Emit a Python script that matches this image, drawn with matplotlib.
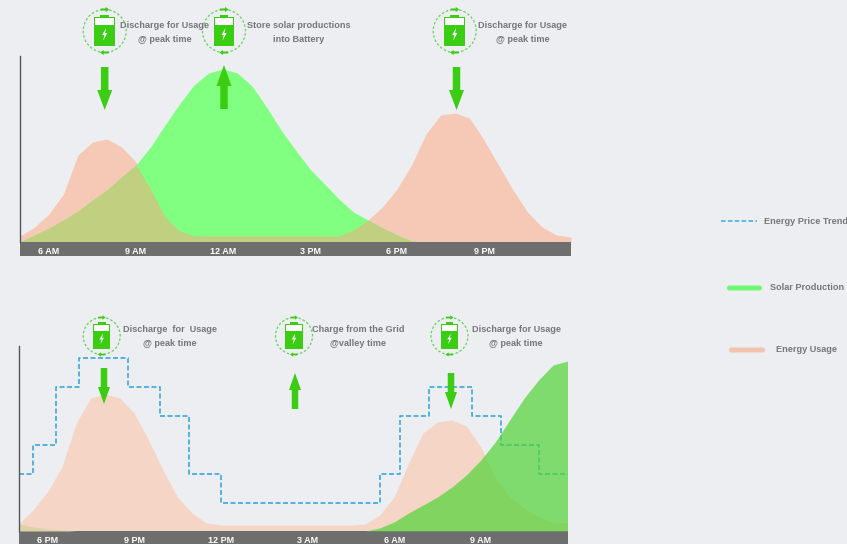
#!/usr/bin/env python3
"""
Solar + battery daily load shifting chart, two panels and a legend on the right.
"""

import matplotlib
matplotlib.use("Agg")
import matplotlib.pyplot as plt
import numpy as np
from matplotlib.patches import Circle, FancyBboxPatch, Polygon, Rectangle

# --- Data ---
# half hour steps, heights are read off the picture
TOP_HOURS = np.arange(5, 24.5, 0.5)
TOP_USAGE = [6, 15, 28, 48, 87, 100, 103, 95, 80, 53, 25, 11, 6, 6, 6, 6, 6, 6, 6, 6, 6, 6, 6,
             12, 22, 35, 53, 77, 108, 127, 129, 124, 102, 77, 52, 30, 15, 7, 5]
TOP_SOLAR = [0, 7, 14, 22, 31, 42, 52, 65, 77, 95, 117, 138, 157, 169, 173, 169, 156, 135, 112,
             92, 73, 58, 43, 30, 22, 14, 7, 1, 0, 0, 0, 0, 0, 0, 0, 0, 0, 0, 0]
TOP_TICKS = [6, 9, 12, 15, 18, 21]
TOP_LABELS = ["6 AM", "9 AM", "12 AM", "3 PM", "6 PM", "9 PM"]

BOTTOM_HOURS = np.arange(17, 36.5, 0.5)
BOTTOM_USAGE = [7, 21, 39, 64, 108, 133, 137, 133, 118, 91, 61, 34, 18, 8, 6, 6, 6, 6, 6, 6, 6, 6, 6, 6, 7,
                16, 34, 68, 98, 109, 111, 105, 84, 54, 34, 23, 14, 9, 8]
BOTTOM_SOLAR_EVENING = [7, 4, 2, 1, 0]
BOTTOM_SOLAR = [0, 0, 0, 0, 0, 0, 0, 0, 0, 0, 0, 0, 0, 0, 0, 0, 0, 0, 0, 0, 0, 0, 0, 0, 0,
                3, 9, 18, 26, 34, 44, 56, 71, 89, 111, 133, 151, 166, 170]
BOTTOM_TICKS = [18, 21, 24, 27, 30, 33]
BOTTOM_LABELS = ["6 PM", "9 PM", "12 PM", "3 AM", "6 AM", "9 AM"]

PRICE_EDGES = [17, 17.5, 18.3, 19.1, 20.8, 21.9, 22.9, 24, 29.5, 30.2, 31.2, 32.7, 33.7, 35, 36]
PRICE_LEVELS = [57, 86, 144, 173, 144, 115, 57, 28, 57, 115, 144, 115, 86, 57, 57]

# --- Styles ---
WIDTH, HEIGHT = 847, 544
BG = "#EDEEF1"
BAND = "#6E6E6E"
GREY_TEXT = "#77777B"
ARROW_GREEN = "#3ACD14"
PRICE_BLUE = "#3AA9DC"
FONT = ["Liberation Sans Narrow", "Liberation Sans", "DejaVu Sans"]


def pixel_axes(fig, left, top, right, bottom):
    """Make an axes from pixel positions, y counted from the top of the picture."""
    return fig.add_axes([left / WIDTH, 1 - bottom / HEIGHT, (right - left) / WIDTH, (bottom - top) / HEIGHT])


def style_chart(ax, xlim, ylim, ticks, labels, band_px):
    ax.set_facecolor("none")
    ax.set_xlim(*xlim)
    ax.set_ylim(*ylim)
    ax.set_yticks([])
    ax.set_xticks(ticks)
    ax.set_xticklabels(labels, color="white", fontsize=6.5, fontweight="bold", family=FONT)
    ax.tick_params(axis="x", length=0, pad=3.5)
    for name in ["top", "right", "bottom"]:
        ax.spines[name].set_visible(False)
    ax.spines["left"].set_color("#55555A")
    ax.spines["left"].set_linewidth(1.0)
    # grey time band under the plot
    height = band_px / ylim[1]
    ax.add_patch(Rectangle((0, -height), 1, height, transform=ax.transAxes, color=BAND, clip_on=False, lw=0, zorder=1))


def draw_top(ax):
    usage = np.array(TOP_USAGE)
    solar = np.array(TOP_SOLAR)
    ax.fill_between(TOP_HOURS, 0, usage, color="#F5C9B5", lw=0)
    ax.fill_between(TOP_HOURS, 0, solar, color="#80FF80", lw=0)
    ax.fill_between(TOP_HOURS, 0, np.minimum(usage, solar), color="#C0D080", lw=0)
    style_chart(ax, (5, 24), (0, 186), TOP_TICKS, TOP_LABELS, 14)


def draw_bottom(ax):
    ax.fill_between(BOTTOM_HOURS, 0, BOTTOM_USAGE, color="#F5D5C6", lw=0, zorder=1)
    ax.fill_between(BOTTOM_HOURS[:5], 0, BOTTOM_SOLAR_EVENING, color="#D9D3A6", lw=0, zorder=1.2)
    ax.step(PRICE_EDGES, PRICE_LEVELS, where="post", color=PRICE_BLUE, lw=1.2, ls=(0, (3, 1.5)), zorder=1.5)
    # see through, the price line shows under it
    ax.fill_between(BOTTOM_HOURS, 0, BOTTOM_SOLAR, color="#51D436", alpha=0.7, lw=0, zorder=2)
    style_chart(ax, (17, 36), (0, 185), BOTTOM_TICKS, BOTTOM_LABELS, 13)


def draw_battery(ax, cx, cy, r):
    """Battery with dashed ring and two small arrows, r is the ring radius."""
    ax.add_patch(Circle((cx, cy), r, fill=False, ec="#62D35C", lw=0.9, ls=(0, (2, 1.6))))
    w = r * 0.95
    h = r * 1.36
    top = cy - h / 2 + 0.5
    ax.add_patch(Rectangle((cx - w / 2, top), w, h, color=ARROW_GREEN, lw=0))
    ax.add_patch(Rectangle((cx - w * 0.22, top - 2), w * 0.44, 2, color=ARROW_GREEN, lw=0))
    ax.add_patch(Rectangle((cx - w / 2 + 1, top + 1.5), w - 2, h * 0.22, color="white", lw=0))
    s = r / 21
    bolt = [(1.5, -6), (-2.5, 1), (-0.3, 1), (-1.5, 6.5), (2.5, -1), (0.3, -1)]
    ax.add_patch(Polygon([(cx + x * s, cy + 3 * s + y * s) for x, y in bolt], color="white", lw=0))
    # small arrows, right on top of the ring and left under it
    for sign, y in [(1, cy - r), (-1, cy + r)]:
        ax.add_patch(Polygon([(cx - sign * 4 * s, y - 1 * s), (cx + sign * 1 * s, y - 1 * s),
                              (cx + sign * 1 * s, y - 2.5 * s), (cx + sign * 4.5 * s, y),
                              (cx + sign * 1 * s, y + 2.5 * s), (cx + sign * 1 * s, y + 1 * s),
                              (cx - sign * 4 * s, y + 1 * s)], color=ARROW_GREEN, lw=0, zorder=3))


def draw_arrow(ax, x, tail, neck, tip, shaft, head):
    """Big block arrow, from tail to tip in pixels."""
    pts = [(x - shaft / 2, tail), (x + shaft / 2, tail), (x + shaft / 2, neck), (x + head / 2, neck),
           (x, tip), (x - head / 2, neck), (x - shaft / 2, neck)]
    ax.add_patch(Polygon(pts, color=ARROW_GREEN, lw=0, zorder=5))


def note(ax, x, y, text, size=6.6, ha="center"):
    ax.text(x, y, text, ha=ha, va="center", color=GREY_TEXT, fontsize=size, fontweight="bold", family=FONT)


def draw_decorations(ax):
    ax.set_xlim(0, WIDTH)
    ax.set_ylim(HEIGHT, 0)
    ax.axis("off")

    for cx in [104.7, 224, 454.7]:
        draw_battery(ax, cx, 31, 21.5)
    for cx in [101.7, 294, 449.5]:
        draw_battery(ax, cx, 336, 18.5)

    draw_arrow(ax, 104.7, 67, 90, 110, 7.5, 15)
    draw_arrow(ax, 224, 109, 86, 65, 7.5, 15)
    draw_arrow(ax, 456.5, 67, 90, 110, 7.5, 15)
    draw_arrow(ax, 104, 368, 387, 404, 6.5, 12)
    draw_arrow(ax, 295, 409, 390, 373, 6.5, 12)
    draw_arrow(ax, 451, 373, 392, 409, 6.5, 12)

    note(ax, 165, 25, "Discharge for Usage")
    note(ax, 165, 39, "@ peak time")
    note(ax, 299, 25, "Store solar productions")
    note(ax, 299, 39, "into Battery")
    note(ax, 523, 25, "Discharge for Usage")
    note(ax, 523, 39, "@ peak time")
    note(ax, 170, 329, "Discharge  for  Usage")
    note(ax, 170, 344, "@ peak time")
    note(ax, 358, 330, "Charge from the Grid")
    note(ax, 358, 344, "@valley time")
    note(ax, 516, 329, "Discharge for Usage")
    note(ax, 516, 344, "@ peak time")

    # legend
    ax.plot([721, 757], [221, 221], color=PRICE_BLUE, lw=1.1, ls=(0, (3, 1.5)))
    note(ax, 764, 221, "Energy Price Trend", ha="left")
    ax.add_patch(FancyBboxPatch((727, 285.5), 35, 5, boxstyle="round,pad=0,rounding_size=2.5", color="#70F870", lw=0))
    note(ax, 770, 287.5, "Solar Production", ha="left")
    ax.add_patch(FancyBboxPatch((729, 347.5), 36, 5, boxstyle="round,pad=0,rounding_size=2.5", color="#F2C3AE", lw=0))
    note(ax, 776, 350, "Energy Usage", ha="left")


def main():
    fig = plt.figure(figsize=(WIDTH / 100, HEIGHT / 100), dpi=100, facecolor=BG)
    draw_top(pixel_axes(fig, 20, 56, 571, 242))
    draw_bottom(pixel_axes(fig, 18.5, 346, 567.5, 531))
    overlay = pixel_axes(fig, 0, 0, WIDTH, HEIGHT)
    overlay.set_zorder(5)
    draw_decorations(overlay)
    fig.savefig("out.png", dpi=100, facecolor=BG)


if __name__ == "__main__":
    main()
